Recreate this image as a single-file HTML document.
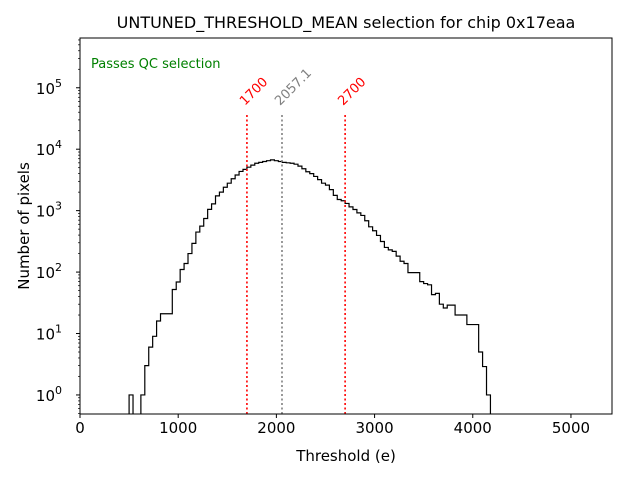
<!DOCTYPE html>
<html><head><meta charset="utf-8"><style>
body{margin:0;background:#fff;font-family:"Liberation Sans","DejaVu Sans",sans-serif}
svg text{font-family:"DejaVu Sans","Liberation Sans",sans-serif}
</style></head><body>
<svg id="chart" width="640" height="480" viewBox="0 0 640 480">
<rect x="0" y="0" width="640" height="480" fill="#fff"/>
<text x="346" y="28" text-anchor="middle" font-size="16">UNTUNED_THRESHOLD_MEAN selection for chip 0x17eaa</text>
<text x="91" y="68" font-size="13" fill="green">Passes QC selection</text>
<g id="plot"></g>
<rect x="80" y="38" width="532" height="376" fill="none" stroke="#000" stroke-width="1"/>
<text x="346" y="461" text-anchor="middle" font-size="15">Threshold (e)</text>
<text transform="translate(29,226) rotate(-90)" text-anchor="middle" font-size="15">Number of pixels</text>
</svg>
<script>
const binStart = 500;
const binWidth = 40;
const counts = [1,0,0,1,3,6,9,16,21,21,21,52,69,110,138,200,293,448,560,745,1050,1290,1740,2000,2400,2800,3300,3800,4350,4700,5100,5500,5900,6100,6300,6500,6700,6500,6300,
6100,6000,5900,5700,5300,4800,4300,4000,3600,3200,2800,2600,2200,1770,1520,1450,1310,1150,1045,920,835,685,545,470,395,315,252,230,217,182,150,138,98,98,98,70,65,62,43,45,30,26,29,29,20,20,20,14,14,14,5,2.9,1];
const xTicks = [0,1000,2000,3000,4000,5000];
const xTickLabels = ["0","1000","2000","3000","4000","5000"];
const yExps = [0,1,2,3,4,5];
const cutLines = [1700, 2700];
const meanValue = 2057.1;

const X0=80,X1=612,Y0=38,Y1=414;
const xMin=0,xMax=5418,lMin=-0.31,lMax=5.81;
function xs(v){return X0+(v-xMin)/(xMax-xMin)*(X1-X0);}
function ys(v){return Y1-(Math.log10(v)-lMin)/(lMax-lMin)*(Y1-Y0);}
const NS="http://www.w3.org/2000/svg";
const g=document.getElementById('plot');
function mk(tag,attrs){const e=document.createElementNS(NS,tag);for(const k in attrs)e.setAttribute(k,attrs[k]);g.appendChild(e);return e;}

let d="",pen=false;
for(let i=0;i<counts.length;i++){
  const a=xs(binStart+i*binWidth),b=xs(binStart+(i+1)*binWidth);
  const c=counts[i];
  if(c>0){
    const y=ys(c);
    if(!pen){d+=`M${a},${Y1} L${a},${y} `;pen=true;} else d+=`L${a},${y} `;
    d+=`L${b},${y} `;
  } else if(pen){d+=`L${a},${Y1} `;pen=false;}
}
if(pen){d+=`L${xs(binStart+counts.length*binWidth)},${Y1}`;}
const hp=mk('path',{d:d,fill:'none',stroke:'#000','stroke-width':1.2});



cutLines.forEach((v,i)=>{
  const l=mk('line',{x1:xs(v),x2:xs(v),y1:Y1,y2:113,stroke:'red','stroke-width':1.6,'stroke-dasharray':'2,2.5'});
  
  
  const t=mk('text',{x:xs(v)-2,y:106,'font-size':13,fill:'red',transform:`rotate(-45 ${xs(v)-2} 106)`});
  t.textContent=String(v);
  
  
});
const ml=mk('line',{x1:xs(meanValue),x2:xs(meanValue),y1:Y1,y2:113,stroke:'gray','stroke-width':1.6,'stroke-dasharray':'2,2.5'});


const mt=mk('text',{x:xs(meanValue)-2,y:106,'font-size':13,fill:'gray',transform:`rotate(-45 ${xs(meanValue)-2} 106)`});
mt.textContent=meanValue.toFixed(1);



xTicks.forEach((v,i)=>{
  const x=xs(v);
  mk('line',{x1:x,x2:x,y1:Y1,y2:Y1+4,stroke:'#000'});
  const t=mk('text',{x:x,y:Y1+19,'font-size':15,'text-anchor':'middle'});
  t.textContent=xTickLabels[i];
  
  
});
for(let e=-1;e<=5;e++){
  for(let m=1;m<10;m++){
    const v=m*Math.pow(10,e);const y=ys(v);
    if(y<Y0||y>Y1)continue;
    mk('line',{x1:X0-(m===1?4:2),x2:X0,y1:y,y2:y,stroke:'#000','stroke-width':m===1?1:0.7});
  }
}
yExps.forEach(e=>{
  const y=ys(Math.pow(10,e));
  const t=mk('text',{x:62,y:y+6,'font-size':15,'text-anchor':'end'});
  t.innerHTML='10<tspan dy="-7" font-size="11">'+e+'</tspan>';
  
  
});
</script>
</body></html>
